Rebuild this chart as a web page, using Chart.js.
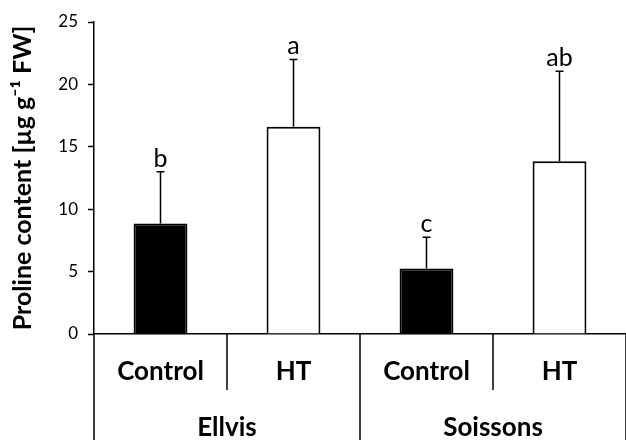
<!DOCTYPE html>
<html>
<head>
<meta charset="utf-8">
<script src="https://cdn.jsdelivr.net/npm/chart.js@4"></script>
<style>
  html, body { margin: 0; padding: 0; background: #fff; }
  #wrap { width: 626px; height: 440px; position: relative; }
</style>
</head>
<body>
<div id="wrap"><canvas id="prolineChart"></canvas></div>
<script>
// Chart data
const cultivars = ['Ellvis', 'Soissons'];
const treatments = ['Control', 'HT'];
const prolineMean = [8.85, 16.6, 5.25, 13.85];
const prolineUpper = [13.0, 22.0, 7.75, 21.05];
const sigLetters = ['b', 'a', 'c', 'ab'];
const yTicks = [0, 5, 10, 15, 20, 25];

const FONT = 'Lato, "DejaVu Sans", sans-serif';

// one label per bar: treatment within cultivar
const barLabels = [];
cultivars.forEach(c => treatments.forEach(t => barLabels.push([t, c])));
const barColors = barLabels.map(l => l[0] === 'Control' ? '#000000' : '#ffffff');

// Error bars + letters on top of bars
const errorBarPlugin = {
    id: 'errorBars',
    afterDatasetsDraw(chart) {
        const ctx = chart.ctx;
        const x = chart.scales.x;
        const y = chart.scales.y;
        ctx.save();
        ctx.strokeStyle = '#000';
        ctx.lineWidth = 1.5;
        ctx.fillStyle = '#000';
        ctx.font = '25px ' + FONT;
        ctx.textAlign = 'center';
        ctx.textBaseline = 'alphabetic';
        prolineMean.forEach((v, i) => {
            const cx = x.getPixelForValue(i);
            const yTop = y.getPixelForValue(prolineUpper[i]);
            const yBar = y.getPixelForValue(v);
            ctx.beginPath();
            ctx.moveTo(cx, yBar);
            ctx.lineTo(cx, yTop);
            ctx.moveTo(cx - 4, yTop);
            ctx.lineTo(cx + 4, yTop);
            ctx.stroke();
            ctx.fillText(sigLetters[i], cx, yTop - 5);
        });
        ctx.restore();
    }
};

// Two-level category axis with separators
const groupAxisPlugin = {
    id: 'groupAxis',
    afterDraw(chart) {
        const ctx = chart.ctx;
        const x = chart.scales.x;
        const area = chart.chartArea;
        const y0 = area.bottom;
        const h = chart.height;
        const n = barLabels.length;
        const per = treatments.length;
        ctx.save();
        ctx.strokeStyle = '#000';
        ctx.lineWidth = 1.5;
        // boundaries
        for (let i = 0; i <= n; i++) {
            let bx;
            if (i === 0) bx = area.left;
            else if (i === n) bx = area.right;
            else bx = (x.getPixelForValue(i - 1) + x.getPixelForValue(i)) / 2;
            const groupEdge = (i % per === 0);
            ctx.beginPath();
            ctx.moveTo(bx, y0);
            ctx.lineTo(bx, groupEdge ? h : y0 + 56);
            ctx.stroke();
        }
        ctx.fillStyle = '#000';
        ctx.textAlign = 'center';
        ctx.textBaseline = 'middle';
        ctx.font = 'bold 26px ' + FONT;
        barLabels.forEach((l, i) => {
            ctx.fillText(l[0], x.getPixelForValue(i), y0 + 38);
        });
        cultivars.forEach((c, g) => {
            const first = x.getPixelForValue(g * per);
            const last = x.getPixelForValue(g * per + per - 1);
            ctx.fillText(c, (first + last) / 2, y0 + 94);
        });
        ctx.restore();
    }
};

const ctx = document.getElementById('prolineChart').getContext('2d');
new Chart(ctx, {
    type: 'bar',
    data: {
        labels: barLabels,
        datasets: [{
            data: prolineMean,
            backgroundColor: barColors,
            borderColor: '#000',
            borderWidth: 2,
            barPercentage: 0.405,
            categoryPercentage: 1.0
        }]
    },
    options: {
        responsive: true,
        maintainAspectRatio: false,
        animation: false,
        layout: {
            padding: { top: 22, right: 0, bottom: 106, left: 0 }
        },
        plugins: {
            legend: { display: false },
            tooltip: { enabled: false }
        },
        scales: {
            x: {
                ticks: { display: false },
                grid: { display: false, drawTicks: false },
                border: { display: true, color: '#000', width: 1.5 },
                afterFit: function(scale) { scale.height = 0; }
            },
            y: {
                min: 0,
                max: 25,
                afterBuildTicks: function(scale) {
                    scale.ticks = yTicks.map(v => ({ value: v }));
                },
                ticks: {
                    color: '#000',
                    padding: 10,
                    font: { family: FONT, size: 17 }
                },
                grid: {
                    display: true,
                    drawOnChartArea: false,
                    drawTicks: true,
                    tickLength: 6,
                    tickWidth: 1.5,
                    tickColor: '#000'
                },
                border: { display: true, color: '#000', width: 1.5 },
                title: {
                    display: true,
                    text: 'Proline content [µg g\u207B\u00B9 FW]',
                    color: '#000',
                    padding: { top: 8, bottom: 0 },
                    font: { family: FONT, size: 25, weight: 'bold' }
                },
                afterFit: function(scale) { scale.width = 94; }
            }
        }
    },
    plugins: [errorBarPlugin, groupAxisPlugin]
});
</script>
</body>
</html>
